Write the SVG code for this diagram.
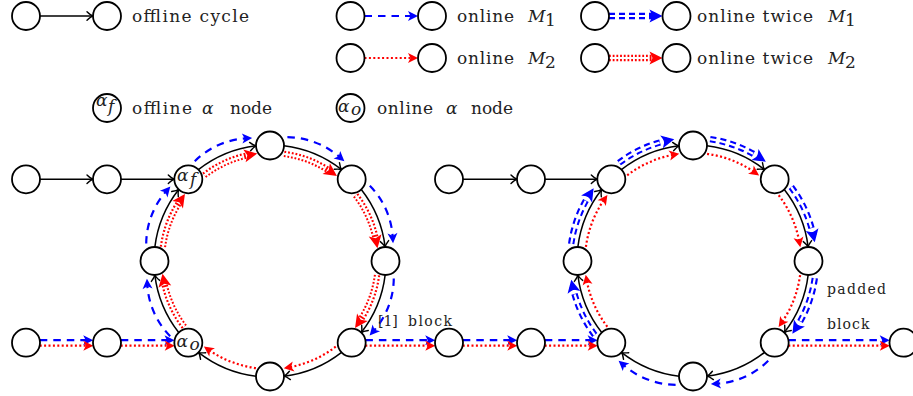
<svg xmlns="http://www.w3.org/2000/svg" width="913" height="396" viewBox="0 0 913 396">
<style>
.n{fill:#fff;stroke:#000;stroke-width:1.8}
.t{font-family:"DejaVu Serif","Liberation Serif",serif;font-size:17px;fill:#222}
.s{font-family:"DejaVu Serif","Liberation Serif",serif;font-size:14px;fill:#222}
.i{font-style:italic}
.k{fill:none;stroke:#000;stroke-width:1.5;marker-end:url(#ak)}
.b{fill:none;stroke:#00f;stroke-width:2.2;stroke-dasharray:7.5 6;marker-end:url(#ab)}
.r{fill:none;stroke:#f00;stroke-width:2.2;stroke-dasharray:2 2.4;marker-end:url(#ar)}
.bb{fill:none;stroke:#00f;stroke-width:6.4;stroke-dasharray:6 4;marker-end:url(#abb)}
.rr{fill:none;stroke:#f00;stroke-width:6.4;stroke-dasharray:1.8 1.9;marker-end:url(#arr)}
.w{fill:none;stroke:#fff;stroke-width:2.2}
</style>
<defs>
<marker id="ak" markerUnits="userSpaceOnUse" orient="auto" overflow="visible" markerWidth="20" markerHeight="20" refX="0" refY="0">
<path d="M-6,-4.2 Q-2.2,-0.6 0,0 Q-2.2,0.6 -6,4.2" fill="none" stroke="#000" stroke-width="1.4" stroke-linecap="round"/>
</marker>
<marker id="ab" markerUnits="userSpaceOnUse" orient="auto" overflow="visible" markerWidth="20" markerHeight="20" refX="0" refY="0">
<path d="M-4,-5 L6,0 L-4,5 L-1.5,0 Z" fill="#00f"/>
</marker>
<marker id="ar" markerUnits="userSpaceOnUse" orient="auto" overflow="visible" markerWidth="20" markerHeight="20" refX="0" refY="0">
<path d="M-4,-5 L6,0 L-4,5 L-1.5,0 Z" fill="#f00"/>
</marker>
<marker id="abb" markerUnits="userSpaceOnUse" orient="auto" overflow="visible" markerWidth="20" markerHeight="20" refX="0" refY="0">
<path d="M-6,-6.5 L7,0 L-6,6.5 L-3,0 Z" fill="#00f"/>
</marker>
<marker id="arr" markerUnits="userSpaceOnUse" orient="auto" overflow="visible" markerWidth="20" markerHeight="20" refX="0" refY="0">
<path d="M-6,-6.5 L7,0 L-6,6.5 L-3,0 Z" fill="#f00"/>
</marker>
</defs>

<g id="connectors">
<!-- legend -->
<path class="k" d="M40,16 L93,16"/>
<path class="b" d="M364.5,16 L412,16"/>
<path class="bb" d="M609,16 L655.5,16"/>
<path class="w" d="M609,16 L648,16"/>
<path class="r" d="M364.5,58 L412,58"/>
<path class="rr" d="M609,58 L655.5,58"/>
<path class="w" d="M609,58 L648,58"/>

<!-- left chains -->
<path class="k" d="M40,179.3 L93,179.3"/>
<path class="k" d="M121,179.3 L174.3,179.3"/>
<path class="b" d="M39.8,340.2 L87.2,340.2"/>
<path class="r" d="M39.7,345.7 L87.3,345.7"/>
<path class="b" d="M120.8,340.2 L168.5,340.2"/>
<path class="r" d="M120.7,345.7 L168.7,345.7"/>
<path class="b" d="M365.4,340.2 L429.2,340.2"/>
<path class="r" d="M365.3,345.7 L429.3,345.7"/>

<!-- right chains -->
<path class="k" d="M463,179.3 L517,179.3"/>
<path class="k" d="M545,179.3 L597.3,179.3"/>
<path class="b" d="M462.8,340.2 L511.2,340.2"/>
<path class="r" d="M462.7,345.7 L511.3,345.7"/>
<path class="b" d="M544.8,340.2 L591.6,340.2"/>
<path class="r" d="M544.7,345.7 L591.7,345.7"/>
<path class="b" d="M788.4,340.2 L883.7,340.2"/>
<path class="r" d="M788.3,345.7 L883.8,345.7"/>

<!-- left cycle: black -->
<path class="k" d="M13.94,-115.16A116,116 0 0 1 71.58,-91.29" transform="translate(270,261) rotate(0)"/>
<path class="k" d="M13.94,-115.16A116,116 0 0 1 71.58,-91.29" transform="translate(270,261) rotate(45)"/>
<path class="k" d="M13.94,-115.16A116,116 0 0 1 71.58,-91.29" transform="translate(270,261) rotate(90)"/>
<path class="k" d="M13.94,-115.16A116,116 0 0 1 71.58,-91.29" transform="translate(270,261) rotate(135)"/>
<path class="k" d="M13.94,-115.16A116,116 0 0 1 71.58,-91.29" transform="translate(270,261) rotate(180)"/>
<path class="k" d="M13.94,-115.16A116,116 0 0 1 71.58,-91.29" transform="translate(270,261) rotate(225)"/>
<path class="k" d="M13.94,-115.16A116,116 0 0 1 71.58,-91.29" transform="translate(270,261) rotate(270)"/>
<path class="k" d="M13.94,-115.16A116,116 0 0 1 71.58,-91.29" transform="translate(270,261) rotate(315)"/>
<!-- left cycle: blue single -->
<path class="b" d="M17.4,-123.78A80,80 0 0 1 69.9,-103.63" transform="translate(270,261) rotate(225)"/>
<path class="b" d="M17.4,-123.78A80,80 0 0 1 69.9,-103.63" transform="translate(270,261) rotate(270)"/>
<path class="b" d="M17.4,-123.78A80,80 0 0 1 69.9,-103.63" transform="translate(270,261) rotate(315)"/>
<path class="b" d="M17.4,-123.78A80,80 0 0 1 69.9,-103.63" transform="translate(270,261) rotate(0)"/>
<path class="b" d="M17.4,-123.78A80,80 0 0 1 69.9,-103.63" transform="translate(270,261) rotate(45)"/>
<path class="b" d="M17.4,-123.78A80,80 0 0 1 69.9,-103.63" transform="translate(270,261) rotate(90)"/>
<!-- left cycle: red double -->
<path class="rr" d="M14.1,-107.08A108,108 0 0 1 61.17,-89.01" transform="translate(270,261) rotate(225)"/>
<path class="w" pathLength="100" stroke-dasharray="84 100" d="M14.1,-107.08A108,108 0 0 1 61.17,-89.01" transform="translate(270,261) rotate(225)"/>
<path class="rr" d="M14.1,-107.08A108,108 0 0 1 61.17,-89.01" transform="translate(270,261) rotate(270)"/>
<path class="w" pathLength="100" stroke-dasharray="84 100" d="M14.1,-107.08A108,108 0 0 1 61.17,-89.01" transform="translate(270,261) rotate(270)"/>
<path class="rr" d="M14.1,-107.08A108,108 0 0 1 61.17,-89.01" transform="translate(270,261) rotate(315)"/>
<path class="w" pathLength="100" stroke-dasharray="84 100" d="M14.1,-107.08A108,108 0 0 1 61.17,-89.01" transform="translate(270,261) rotate(315)"/>
<path class="rr" d="M14.1,-107.08A108,108 0 0 1 61.17,-89.01" transform="translate(270,261) rotate(0)"/>
<path class="w" pathLength="100" stroke-dasharray="84 100" d="M14.1,-107.08A108,108 0 0 1 61.17,-89.01" transform="translate(270,261) rotate(0)"/>
<path class="rr" d="M14.1,-107.08A108,108 0 0 1 61.17,-89.01" transform="translate(270,261) rotate(45)"/>
<path class="w" pathLength="100" stroke-dasharray="84 100" d="M14.1,-107.08A108,108 0 0 1 61.17,-89.01" transform="translate(270,261) rotate(45)"/>
<path class="rr" d="M14.1,-107.08A108,108 0 0 1 61.17,-89.01" transform="translate(270,261) rotate(90)"/>
<path class="w" pathLength="100" stroke-dasharray="84 100" d="M14.1,-107.08A108,108 0 0 1 61.17,-89.01" transform="translate(270,261) rotate(90)"/>
<!-- left cycle: red single -->
<path class="r" d="M14.1,-107.08A108,108 0 0 1 61.17,-89.01" transform="translate(270,261) rotate(135)"/>
<path class="r" d="M14.1,-107.08A108,108 0 0 1 61.17,-89.01" transform="translate(270,261) rotate(180)"/>

<!-- right cycle: black -->
<path class="k" d="M13.94,-115.16A116,116 0 0 1 71.58,-91.29" transform="translate(693,261) rotate(0)"/>
<path class="k" d="M13.94,-115.16A116,116 0 0 1 71.58,-91.29" transform="translate(693,261) rotate(45)"/>
<path class="k" d="M13.94,-115.16A116,116 0 0 1 71.58,-91.29" transform="translate(693,261) rotate(90)"/>
<path class="k" d="M13.94,-115.16A116,116 0 0 1 71.58,-91.29" transform="translate(693,261) rotate(135)"/>
<path class="k" d="M13.94,-115.16A116,116 0 0 1 71.58,-91.29" transform="translate(693,261) rotate(180)"/>
<path class="k" d="M13.94,-115.16A116,116 0 0 1 71.58,-91.29" transform="translate(693,261) rotate(225)"/>
<path class="k" d="M13.94,-115.16A116,116 0 0 1 71.58,-91.29" transform="translate(693,261) rotate(270)"/>
<path class="k" d="M13.94,-115.16A116,116 0 0 1 71.58,-91.29" transform="translate(693,261) rotate(315)"/>
<!-- right cycle: blue double -->
<path class="bb" d="M17.12,-121.8A123,123 0 0 1 66.99,-103.16" transform="translate(693,261) rotate(225)"/>
<path class="w" pathLength="100" stroke-dasharray="85 100" d="M17.12,-121.8A123,123 0 0 1 66.99,-103.16" transform="translate(693,261) rotate(225)"/>
<path class="bb" d="M17.12,-121.8A123,123 0 0 1 66.99,-103.16" transform="translate(693,261) rotate(270)"/>
<path class="w" pathLength="100" stroke-dasharray="85 100" d="M17.12,-121.8A123,123 0 0 1 66.99,-103.16" transform="translate(693,261) rotate(270)"/>
<path class="bb" d="M17.12,-121.8A123,123 0 0 1 66.99,-103.16" transform="translate(693,261) rotate(315)"/>
<path class="w" pathLength="100" stroke-dasharray="85 100" d="M17.12,-121.8A123,123 0 0 1 66.99,-103.16" transform="translate(693,261) rotate(315)"/>
<path class="bb" d="M17.12,-121.8A123,123 0 0 1 66.99,-103.16" transform="translate(693,261) rotate(0)"/>
<path class="w" pathLength="100" stroke-dasharray="85 100" d="M17.12,-121.8A123,123 0 0 1 66.99,-103.16" transform="translate(693,261) rotate(0)"/>
<path class="bb" d="M17.12,-121.8A123,123 0 0 1 66.99,-103.16" transform="translate(693,261) rotate(45)"/>
<path class="w" pathLength="100" stroke-dasharray="85 100" d="M17.12,-121.8A123,123 0 0 1 66.99,-103.16" transform="translate(693,261) rotate(45)"/>
<path class="bb" d="M17.12,-121.8A123,123 0 0 1 66.99,-103.16" transform="translate(693,261) rotate(90)"/>
<path class="w" pathLength="100" stroke-dasharray="85 100" d="M17.12,-121.8A123,123 0 0 1 66.99,-103.16" transform="translate(693,261) rotate(90)"/>
<!-- right cycle: blue single -->
<path class="b" d="M17.4,-123.78A80,80 0 0 1 69.9,-103.63" transform="translate(693,261) rotate(135)"/>
<path class="b" d="M17.4,-123.78A80,80 0 0 1 69.9,-103.63" transform="translate(693,261) rotate(180)"/>
<!-- right cycle: red single -->
<path class="r" d="M14.1,-107.08A108,108 0 0 1 61.17,-89.01" transform="translate(693,261) rotate(225)"/>
<path class="r" d="M14.1,-107.08A108,108 0 0 1 61.17,-89.01" transform="translate(693,261) rotate(270)"/>
<path class="r" d="M14.1,-107.08A108,108 0 0 1 61.17,-89.01" transform="translate(693,261) rotate(315)"/>
<path class="r" d="M14.1,-107.08A108,108 0 0 1 61.17,-89.01" transform="translate(693,261) rotate(0)"/>
<path class="r" d="M14.1,-107.08A108,108 0 0 1 61.17,-89.01" transform="translate(693,261) rotate(45)"/>
<path class="r" d="M14.1,-107.08A108,108 0 0 1 61.17,-89.01" transform="translate(693,261) rotate(90)"/>
</g>

<g id="edge-labels">
<text class="s" x="378" y="326">[1]</text>
<text class="s" x="408" y="326" textLength="44">block</text>
<text class="s" x="827" y="294" textLength="59">padded</text>
<text class="s" x="827" y="329" textLength="42.5">block</text>
</g>

<!-- legend -->
<g id="leg-off-a"><circle class="n" cx="26" cy="16" r="14"/></g>
<g id="leg-off-b"><circle class="n" cx="107" cy="16" r="14"/></g>
<g id="leg-off-text"><text class="t" x="132" y="22" textLength="117">offline cycle</text></g>
<g id="leg-m1-a"><circle class="n" cx="350.5" cy="16" r="14"/></g>
<g id="leg-m1-b"><circle class="n" cx="432" cy="16" r="14"/></g>
<g id="leg-m1-text"><text class="t" x="457" y="22" textLength="57">online</text><text class="t i" x="528" y="22">M</text><text class="t" x="545" y="26" font-size="12">1</text></g>
<g id="leg-m1t-a"><circle class="n" cx="595" cy="16" r="14"/></g>
<g id="leg-m1t-b"><circle class="n" cx="676.5" cy="16" r="14"/></g>
<g id="leg-m1t-text"><text class="t" x="697" y="22" textLength="116">online twice</text><text class="t i" x="828" y="22">M</text><text class="t" x="845" y="26" font-size="12">1</text></g>
<g id="leg-m2-a"><circle class="n" cx="350.5" cy="58" r="14"/></g>
<g id="leg-m2-b"><circle class="n" cx="432" cy="58" r="14"/></g>
<g id="leg-m2-text"><text class="t" x="457" y="64" textLength="57">online</text><text class="t i" x="528" y="64">M</text><text class="t" x="545" y="68" font-size="12">2</text></g>
<g id="leg-m2t-a"><circle class="n" cx="595" cy="58" r="14"/></g>
<g id="leg-m2t-b"><circle class="n" cx="676.5" cy="58" r="14"/></g>
<g id="leg-m2t-text"><text class="t" x="697" y="64" textLength="116">online twice</text><text class="t i" x="828" y="64">M</text><text class="t" x="845" y="68" font-size="12">2</text></g>
<g id="leg-af"><circle class="n" cx="107" cy="108" r="14"/><text class="t i" x="96" y="106" font-size="10">α</text><text class="t i" x="108" y="112" font-size="14">f</text></g>
<g id="leg-af-text"><text class="t" x="132" y="113.5" textLength="60">offline</text><text class="t i" x="202" y="113.5">α</text><text class="t" x="230" y="113.5" textLength="42">node</text></g>
<g id="leg-ao"><circle class="n" cx="350.5" cy="108" r="14"/><text class="t i" x="338" y="112" font-size="12">α</text><text class="t i" x="351" y="115" font-size="11">o</text></g>
<g id="leg-ao-text"><text class="t" x="377" y="113.5" textLength="56">online</text><text class="t i" x="446" y="113.5">α</text><text class="t" x="471" y="113.5" textLength="42">node</text></g>

<!-- left graph -->
<g id="l-t1"><circle class="n" cx="26" cy="179.3" r="14"/></g>
<g id="l-t2"><circle class="n" cx="107" cy="179.3" r="14"/></g>
<g id="l-b1"><circle class="n" cx="26" cy="342.7" r="14"/></g>
<g id="l-b2"><circle class="n" cx="107" cy="342.7" r="14"/></g>
<g id="l-af"><circle class="n" cx="188.33" cy="179.33" r="14"/><text class="t i" x="177" y="180.5" font-size="11">α</text><text class="t i" x="190" y="185" font-size="14">f</text></g>
<g id="l-top"><circle class="n" cx="270" cy="145.5" r="14"/></g>
<g id="l-ur"><circle class="n" cx="351.67" cy="179.33" r="14"/></g>
<g id="l-r"><circle class="n" cx="385.5" cy="261" r="14"/></g>
<g id="l-lr"><circle class="n" cx="351.67" cy="342.67" r="14"/></g>
<g id="l-bot"><circle class="n" cx="270" cy="376.5" r="14"/></g>
<g id="l-ao"><circle class="n" cx="188.33" cy="342.67" r="14"/><text class="t i" x="176.5" y="347" font-size="11">α</text><text class="t i" x="189.5" y="350" font-size="12">o</text></g>
<g id="l-l"><circle class="n" cx="154.5" cy="261" r="14"/></g>

<!-- right graph -->
<g id="r-t1"><circle class="n" cx="449" cy="179.3" r="14"/></g>
<g id="r-t2"><circle class="n" cx="531" cy="179.3" r="14"/></g>
<g id="r-b1"><circle class="n" cx="449" cy="342.7" r="14"/></g>
<g id="r-b2"><circle class="n" cx="531" cy="342.7" r="14"/></g>
<g id="r-ul"><circle class="n" cx="611.33" cy="179.33" r="14"/></g>
<g id="r-top"><circle class="n" cx="693" cy="145.5" r="14"/></g>
<g id="r-ur"><circle class="n" cx="774.67" cy="179.33" r="14"/></g>
<g id="r-r"><circle class="n" cx="808.5" cy="261" r="14"/></g>
<g id="r-lr"><circle class="n" cx="774.67" cy="342.67" r="14"/></g>
<g id="r-bot"><circle class="n" cx="693" cy="376.5" r="14"/></g>
<g id="r-ll"><circle class="n" cx="611.33" cy="342.67" r="14"/></g>
<g id="r-l"><circle class="n" cx="577.5" cy="261" r="14"/></g>
<g id="r-out"><circle class="n" cx="903.5" cy="342.7" r="14"/></g>
</svg>
